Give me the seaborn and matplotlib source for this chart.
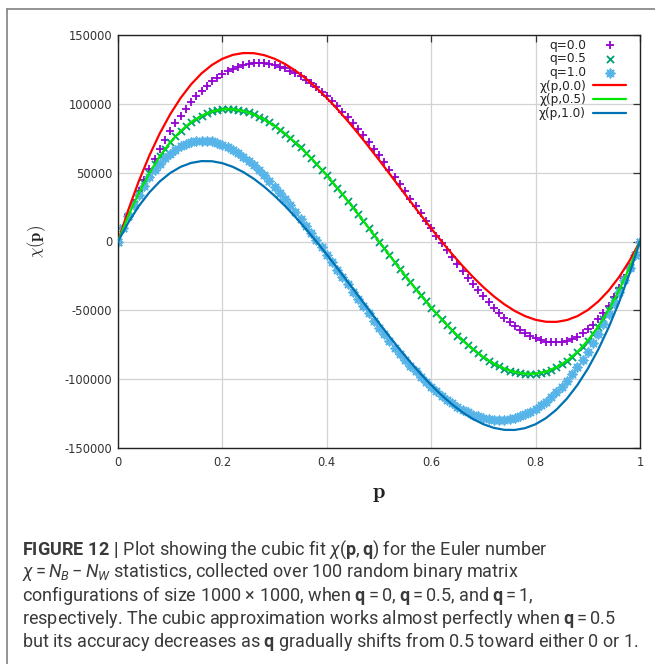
import numpy as np
import pandas as pd
import matplotlib
matplotlib.use("Agg")
import matplotlib.pyplot as plt
import seaborn as sns
from matplotlib import font_manager
from matplotlib.lines import Line2D

# ---------------- data ----------------
p_pts = np.linspace(0, 1, 101)      # p grid of the simulated points (step 0.01)
p_fit = np.linspace(0, 1, 51)       # p grid of the fitted curves (step 0.02)

chi_q00 = [0, 9800, 19200, 28200, 36800, 45000, 52800, 60200, 67200, 73900,
           80100, 85900, 91400, 96500, 101200, 105500, 109500, 113000, 116300, 119100,
           121600, 123700, 125500, 127000, 128100, 128900, 129400, 129500, 129300, 128900,
           128100, 127000, 125700, 124100, 122200, 120000, 117600, 114900, 112100, 108900,
           105600, 102100, 98300, 94400, 90300, 86000, 81600, 77000, 72300, 67400,
           62500, 57500, 52300, 47100, 41800, 36500, 31100, 25800, 20400, 15000,
           9600, 4300, -1000, -6300, -11400, -16500, -21500, -26300, -31000, -35500,
           -39900, -44100, -48100, -51800, -55300, -58600, -61600, -64300, -66600, -68700,
           -70400, -71700, -72700, -73200, -73300, -73000, -72200, -70900, -69100, -66800,
           -63900, -60500, -56400, -51700, -46500, -40500, -33900, -26500, -18400, -9600,
           0]

chi_q05 = [0, 9700, 18800, 27400, 35300, 42800, 49600, 56000, 61800, 67200,
           72000, 76400, 80300, 83700, 86700, 89300, 91400, 93100, 94500, 95400,
           96000, 96200, 96100, 95600, 94800, 93800, 92400, 90700, 88700, 86500,
           84000, 81300, 78300, 75200, 71800, 68300, 64500, 60600, 56500, 52300,
           48000, 43500, 39000, 34300, 29600, 24800, 19900, 14900, 10000, 5000,
           0, -5000, -10000, -14900, -19900, -24800, -29600, -34300, -39000, -43500,
           -48000, -52300, -56500, -60600, -64500, -68300, -71800, -75200, -78300, -81300,
           -84000, -86500, -88700, -90700, -92400, -93800, -94800, -95600, -96100, -96200,
           -96000, -95400, -94500, -93100, -91400, -89300, -86700, -83700, -80300, -76400,
           -72000, -67200, -61800, -56000, -49600, -42800, -35300, -27400, -18800, -9700,
           0]

chi_q10 = [0, 9600, 18400, 26500, 33900, 40500, 46500, 51700, 56400, 60500,
           63900, 66800, 69100, 70900, 72200, 73000, 73300, 73200, 72700, 71700,
           70400, 68700, 66600, 64300, 61600, 58600, 55300, 51800, 48100, 44100,
           39900, 35500, 31000, 26300, 21500, 16500, 11400, 6300, 1000, -4300,
           -9600, -15000, -20400, -25800, -31100, -36500, -41800, -47100, -52300, -57500,
           -62500, -67400, -72300, -77000, -81600, -86000, -90300, -94400, -98300, -102100,
           -105600, -108900, -112100, -114900, -117600, -120000, -122200, -124100, -125700, -127000,
           -128100, -128900, -129300, -129500, -129400, -128900, -128100, -127000, -125500, -123700,
           -121600, -119100, -116300, -113000, -109500, -105500, -101200, -96500, -91400, -85900,
           -80100, -73900, -67200, -60200, -52800, -45000, -36800, -28200, -19200, -9800,
           0]

fit_q00 = [0, 23226, 43987, 62378, 78494, 92430, 104280, 114139, 122102, 128264,
           132720, 135564, 136891, 136796, 135374, 132720, 128928, 124093, 118310, 111674,
           104280, 96222, 87595, 78494, 69014, 59250, 49296, 39247, 29198, 19244,
           9480, 0, -9101, -17728, -25786, -33180, -39816, -45599, -50434, -54226,
           -56880, -58302, -58397, -57070, -54226, -49770, -43608, -35645, -25786, -13936,
           0]

fit_q05 = [0, 18816, 35328, 49632, 61824, 72000, 80256, 86688, 91392, 94464,
           96000, 96096, 94848, 92352, 88704, 84000, 78336, 71808, 64512, 56544,
           48000, 38976, 29568, 19872, 9984, 0, -9984, -19872, -29568, -38976,
           -48000, -56544, -64512, -71808, -78336, -84000, -88704, -92352, -94848, -96096,
           -96000, -94464, -91392, -86688, -80256, -72000, -61824, -49632, -35328, -18816,
           0]

fit_q10 = [0, 13936, 25786, 35645, 43608, 49770, 54226, 57070, 58397, 58302,
           56880, 54226, 50434, 45599, 39816, 33180, 25786, 17728, 9101, 0,
           -9480, -19244, -29198, -39247, -49296, -59250, -69014, -78494, -87595, -96222,
           -104280, -111674, -118310, -124093, -128928, -132720, -135374, -136796, -136891, -135564,
           -132720, -128264, -122102, -114139, -104280, -92430, -78494, -62378, -43987, -23226,
           0]

point_labels = ["q=0.0", "q=0.5", "q=1.0"]
fit_labels = ["χ(p,0.0)", "χ(p,0.5)", "χ(p,1.0)"]
x_ticks = [0, 0.2, 0.4, 0.6, 0.8, 1]
x_ticklabels = ["0", "0.2", "0.4", "0.6", "0.8", "1"]
y_ticks = [-150000, -100000, -50000, 0, 50000, 100000, 150000]
y_ticklabels = ["-150000", "-100000", "-50000", "0", "50000", "100000", "150000"]

caption_lines = [
    r"$\mathbf{FIGURE\ 12\ |}$ Plot showing the cubic fit $\chi(\mathbf{p},\mathbf{q})$ for the Euler number",
    r"$\chi = N_B - N_W$ statistics, collected over 100 random binary matrix",
    r"configurations of size 1000 $\times$ 1000, when $\mathbf{q} = 0$, $\mathbf{q} = 0.5$, and $\mathbf{q} = 1$,",
    r"respectively. The cubic approximation works almost perfectly when $\mathbf{q} = 0.5$",
    r"but its accuracy decreases as $\mathbf{q}$ gradually shifts from 0.5 toward either 0 or 1.",
]

# ---------------- style ----------------
sns.set_theme(style="white")
available = {f.name for f in font_manager.fontManager.ttflist}
cap_font = next((f for f in ["Roboto", "Liberation Sans"] if f in available), "DejaVu Sans")
plt.rcParams["font.family"] = ["DejaVu Sans"]
plt.rcParams["axes.unicode_minus"] = False
plt.rcParams["mathtext.fontset"] = "custom"
plt.rcParams["mathtext.rm"] = cap_font
plt.rcParams["mathtext.it"] = cap_font + ":italic"
plt.rcParams["mathtext.bf"] = cap_font + ":bold"

W, H = 655, 664
fig = plt.figure(figsize=(W / 100, H / 100), dpi=100)
fig.patch.set_facecolor("white")
ax = fig.add_axes([118 / W, 1 - 448 / H, (640 - 118) / W, (448 - 35) / H])
ax.set_facecolor("white")

df_pts = pd.DataFrame({"p": p_pts, "q00": chi_q00, "q05": chi_q05, "q10": chi_q10})
df_fit = pd.DataFrame({"p": p_fit, "f00": fit_q00, "f05": fit_q05, "f10": fit_q10})

pt_colors = ["#9400d3", "#009e73", "#56b4e9"]
pt_markers = ["+", "x", (8, 2, 0)]
pt_sizes = [30, 26, 36]
for col, lab, c, m, s in zip(["q00", "q05", "q10"], point_labels, pt_colors, pt_markers, pt_sizes):
    sns.scatterplot(data=df_pts, x="p", y=col, ax=ax, marker=m, color=c, s=s,
                    linewidth=1.3, label=lab, zorder=2)

fit_colors = ["#ff0000", "#00e600", "#0072b2"]
for col, lab, c in zip(["f00", "f05", "f10"], fit_labels, fit_colors):
    sns.lineplot(data=df_fit, x="p", y=col, ax=ax, color=c, linewidth=1.6, label=lab, zorder=3)

ax.set_xlim(0, 1)
ax.set_ylim(-150000, 150000)
ax.set_xticks(x_ticks)
ax.set_xticklabels(x_ticklabels)
ax.set_yticks(y_ticks)
ax.set_yticklabels(y_ticklabels)
ax.grid(True, color="#d2d2d2", linewidth=0.9, zorder=0)
ax.set_axisbelow(True)
ax.tick_params(axis="both", direction="in", length=5, width=0.9, colors="#333333",
               labelsize=8.3, top=True, right=True, labeltop=False, labelright=False)
ax.tick_params(axis="x", pad=6)
ax.tick_params(axis="y", pad=4)
for sp in ax.spines.values():
    sp.set_color("#222222")
    sp.set_linewidth(1.0)

ax.set_xlabel(r"$\mathbf{p}$", fontsize=16, math_fontfamily="cm", color="#222222")
ax.set_ylabel(r"$\chi(\mathbf{p})$", fontsize=12, math_fontfamily="cm", color="#222222")
ax.xaxis.set_label_coords(0.5, -0.087)
ax.yaxis.set_label_coords(-0.134, 0.5)

leg = ax.legend(loc="upper right", bbox_to_anchor=((626 - 118) / 522, (448 - 38.5) / 413),
                markerfirst=False, frameon=False, fontsize=8.7, borderpad=0, borderaxespad=0,
                handlelength=2.7, handletextpad=0.6, labelspacing=0.06, scatterpoints=1)
for t in leg.get_texts():
    t.set_color("#222222")

# outer frame (partial, as in the reference crop)
fig.add_artist(Line2D([7 / W, 7 / W], [0, 1 - 9 / H], transform=fig.transFigure,
                      color="#808080", linewidth=1.2))
fig.add_artist(Line2D([7 / W, 1], [1 - 9 / H, 1 - 9 / H], transform=fig.transFigure,
                      color="#808080", linewidth=1.2))

# caption
baselines = [554.3, 577.3, 601.0, 624.0, 647.3]
cap_texts = []
for line, yb in zip(caption_lines, baselines):
    t = fig.text(22 / W, 1 - yb / H, line, fontsize=12.7, family=cap_font,
                 color="#3a3a3a", va="baseline", ha="left")
    cap_texts.append(t)
renderer = fig.canvas.get_renderer()
w5 = cap_texts[4].get_window_extent(renderer).width
scale = 616.0 / w5
for t in cap_texts:
    t.set_fontsize(12.7 * scale)

fig.savefig("out.png", dpi=100, facecolor="white")
